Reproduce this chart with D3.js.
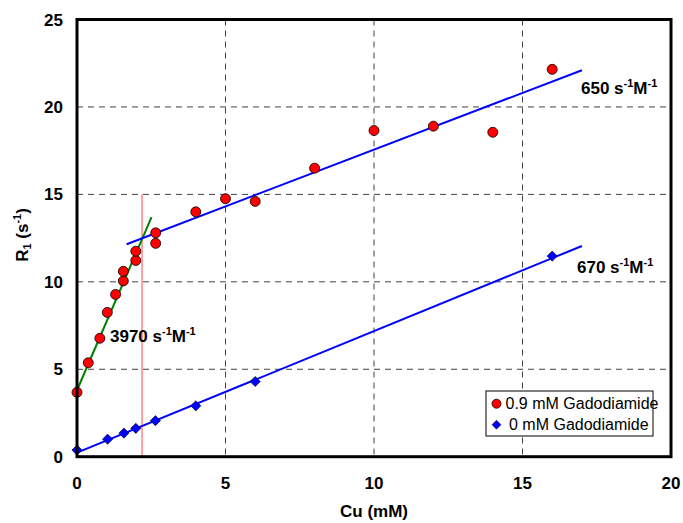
<!DOCTYPE html>
<html>
<head>
<meta charset="utf-8">
<script src="https://cdn.jsdelivr.net/npm/d3@7"></script>
<style>
  body { margin: 0; background: #fff; }
  text { font-family: Arial, "Liberation Sans", sans-serif; }
</style>
</head>
<body>
<div id="chart"></div>
<script>
// 0.9 mM Gadodiamide
const gdCu = [0, 0.38, 0.77, 1.02, 1.3, 1.56, 1.56, 1.98, 1.98, 2.65, 2.65, 4, 5, 6, 8, 10, 12, 14, 16];
const gdR1 = [3.68, 5.37, 6.77, 8.25, 9.28, 10.05, 10.6, 11.22, 11.75, 12.2, 12.8, 14.0, 14.75, 14.6, 16.5, 18.65, 18.9, 18.55, 22.15];
// 0 mM Gadodiamide
const noCu = [0, 1.03, 1.58, 1.98, 2.64, 4, 6, 16];
const noR1 = [0.38, 1.0, 1.35, 1.62, 2.06, 2.91, 4.3, 11.47];
// fit lines
const fitSteep = [[0, 3.8], [2.51, 13.7]];
const fitUpper = [[1.67, 12.15], [17, 22.1]];
const fitLower = [[0, 0.23], [17, 12.05]];
const cutoff = 2.19;
const xTicks = [0, 5, 10, 15, 20];
const yTicks = [0, 5, 10, 15, 20, 25];

const width = 683, height = 523;
const margin = { top: 19.5, right: 12, bottom: 66.3, left: 77 };
const w = width - margin.left - margin.right;
const h = height - margin.top - margin.bottom;

const svg = d3.select("#chart")
    .append("svg")
    .attr("width", width)
    .attr("height", height);
const g = svg.append("g")
    .attr("transform", `translate(${margin.left},${margin.top})`);

const x = d3.scaleLinear().domain([0, 20]).range([0, w]);
const y = d3.scaleLinear().domain([0, 25]).range([h, 0]);

// grid
g.selectAll(".vgrid")
    .data(xTicks.filter(d => d > 0 && d < 20))
    .join("line")
    .attr("x1", d => x(d)).attr("x2", d => x(d))
    .attr("y1", 0).attr("y2", h)
    .attr("stroke", "#404040").attr("stroke-width", 1)
    .attr("stroke-dasharray", "6,5");
g.selectAll(".hgrid")
    .data(yTicks.filter(d => d > 0 && d < 25))
    .join("line")
    .attr("x1", 0).attr("x2", w)
    .attr("y1", d => y(d)).attr("y2", d => y(d))
    .attr("stroke", "#404040").attr("stroke-width", 1)
    .attr("stroke-dasharray", "6,5");

// cutoff line
g.append("line")
    .attr("x1", x(cutoff)).attr("x2", x(cutoff))
    .attr("y1", y(15)).attr("y2", y(0))
    .attr("stroke", "#ff4a4a").attr("stroke-width", 1);

const line = d3.line().x(d => x(d[0])).y(d => y(d[1]));
g.append("path").attr("d", line(fitSteep))
    .attr("stroke", "#008000").attr("stroke-width", 2).attr("fill", "none");
g.append("path").attr("d", line(fitUpper))
    .attr("stroke", "#0000ff").attr("stroke-width", 2).attr("fill", "none");
g.append("path").attr("d", line(fitLower))
    .attr("stroke", "#0000ff").attr("stroke-width", 2).attr("fill", "none");

// points
g.selectAll(".gd")
    .data(gdCu.map((c, i) => [c, gdR1[i]]))
    .join("circle")
    .attr("cx", d => x(d[0])).attr("cy", d => y(d[1]))
    .attr("r", 5)
    .attr("fill", "#ff0000").attr("stroke", "#000").attr("stroke-width", 0.8);

const diamond = d3.symbol().type(d3.symbolDiamond2).size(66);
g.selectAll(".no")
    .data(noCu.map((c, i) => [c, noR1[i]]))
    .join("path")
    .attr("d", diamond)
    .attr("transform", d => `translate(${x(d[0])},${y(d[1])})`)
    .attr("fill", "#0000ff").attr("stroke", "#000").attr("stroke-width", 0.6);

// frame
g.append("rect")
    .attr("x", 0).attr("y", 0).attr("width", w).attr("height", h)
    .attr("fill", "none").attr("stroke", "#000").attr("stroke-width", 3);

// tick labels
g.selectAll(".xt")
    .data(xTicks)
    .join("text")
    .attr("x", d => x(d)).attr("y", h + 32)
    .attr("text-anchor", "middle")
    .style("font-size", "17px").style("font-weight", "bold")
    .text(d => d);
g.selectAll(".yt")
    .data(yTicks)
    .join("text")
    .attr("x", -14).attr("y", d => y(d) + 6)
    .attr("text-anchor", "end")
    .style("font-size", "17px").style("font-weight", "bold")
    .text(d => d);

// axis titles
g.append("text")
    .attr("x", x(10)).attr("y", h + 60)
    .attr("text-anchor", "middle")
    .style("font-size", "17px").style("font-weight", "bold")
    .text("Cu (mM)");

const yt = svg.append("text")
    .attr("transform", "translate(28,235) rotate(-90)")
    .attr("text-anchor", "middle")
    .style("font-size", "17px").style("font-weight", "bold");
yt.append("tspan").text("R");
yt.append("tspan").attr("dy", 3).style("font-size", "11px").text("1");
yt.append("tspan").attr("dy", -3).text(" (s");
yt.append("tspan").attr("dy", -7).style("font-size", "11px").text("-1");
yt.append("tspan").attr("dy", 7).text(")");

// slope labels
function rateLabel(px, py, num) {
    const t = svg.append("text")
        .attr("x", px).attr("y", py)
        .style("font-size", "17px").style("font-weight", "bold");
    t.append("tspan").text(num + " s");
    t.append("tspan").attr("dy", -7).style("font-size", "11px").text("-1");
    t.append("tspan").attr("dy", 7).text("M");
    t.append("tspan").attr("dy", -7).style("font-size", "11px").text("-1");
}
rateLabel(581, 94, "650");
rateLabel(577, 273, "670");
rateLabel(110, 342, "3970");

// legend
const lg = svg.append("g").attr("transform", "translate(486,391)");
lg.append("rect")
    .attr("width", 167).attr("height", 45)
    .attr("fill", "#fff").attr("stroke", "#000").attr("stroke-width", 1);
lg.append("circle").attr("cx", 10.5).attr("cy", 12.7).attr("r", 4.5)
    .attr("fill", "#ff0000").attr("stroke", "#000").attr("stroke-width", 0.8);
lg.append("path").attr("d", diamond.size(50)())
    .attr("transform", "translate(10.5,33.7)")
    .attr("fill", "#0000ff").attr("stroke", "#000").attr("stroke-width", 0.6);
lg.append("text").attr("x", 19.5).attr("y", 17.7)
    .style("font-size", "16px").text("0.9 mM Gadodiamide");
lg.append("text").attr("x", 23).attr("y", 38.7)
    .style("font-size", "16px").text("0 mM Gadodiamide");
</script>
</body>
</html>
